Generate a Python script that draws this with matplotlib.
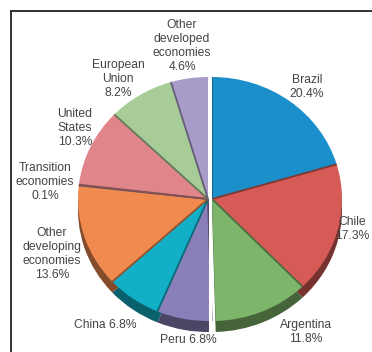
import matplotlib
matplotlib.use("Agg")
import matplotlib.pyplot as plt
import matplotlib.colors as mcolors
import numpy as np

plt.rcParams['font.family'] = ['Liberation Sans', 'DejaVu Sans']

categories = ["Brazil", "Chile", "Argentina", "Peru", "China",
              "Other\ndeveloping\neconomies", "Transition\neconomies",
              "United\nStates", "European\nUnion",
              "Other\ndeveloped\neconomies"]
shares = [20.4, 17.3, 11.8, 6.8, 6.8, 13.6, 0.1, 10.3, 8.2, 4.6]
colors = ["#1b8fc9", "#d65a55", "#7db66a", "#8a7fb8", "#12afc6",
          "#f08a4e", "#8e8aa6", "#e08589", "#a7cc98", "#a89bc9"]
# slices pulled slightly to the right
split_group = ["Brazil", "Chile", "Argentina"]

W, H = 372, 352
fig = plt.figure(figsize=(W / 100, H / 100), dpi=100)
ax = fig.add_axes([0, 0, 1, 1])

# pixel geometry of the (slightly tilted) pie
cx, cy = 208, 199          # centre in pixels (y from top)
rx, ry = 130, 122          # horizontal / vertical radius in pixels
depth = 11 / ry            # thickness of the side band
shift = 4 / rx             # offset of the split group

def darker(c, f=0.55):
    r, g, b = mcolors.to_rgb(c)
    return (r * f, g * f, b * f)

# side band (drawn first, peeks out at the bottom)
side, _ = ax.pie(shares, colors=[darker(c) for c in colors], startangle=90,
                 counterclock=False, radius=1, center=(0, -depth),
                 wedgeprops=dict(linewidth=0))
top, _ = ax.pie(shares, colors=colors, startangle=90, counterclock=False,
                radius=1, center=(0, 0), wedgeprops=dict(linewidth=0))

for ws, wt, name in zip(side, top, categories):
    if name in split_group:
        ws.set_center((shift, -depth))
        wt.set_center((shift, 0))

# radial boundaries between slices
total = sum(shares)
ang = 90.0
for name, val, col in zip(categories, shares, colors):
    a0 = np.deg2rad(ang)
    ox = shift if name in split_group else 0
    ax.plot([ox, ox + np.cos(a0)], [0, np.sin(a0)],
            color=darker(col, 0.6), lw=1.3, solid_capstyle='butt', zorder=3)
    ang -= 360 * val / total

ax.set_aspect('auto')
ax.set_xlim(-cx / rx, (W - cx) / rx)
ax.set_ylim(-(H - cy) / ry, cy / ry)
ax.axis('off')

# white split line down the middle
ax.plot([shift / 2, shift / 2], [1.02, -1.02 - depth], color='white',
        lw=2.2, zorder=4)

# labels (pixel positions, y from top)
label_pos = {
    "Brazil": (307, 87),
    "Chile": (352, 229),
    "Argentina": (306, 332),
    "Peru": (188, 340),
    "China": (105, 325),
    "Other\ndeveloping\neconomies": (52, 254),
    "Transition\neconomies": (45, 182),
    "United\nStates": (75, 128),
    "European\nUnion": (118, 79),
    "Other\ndeveloped\neconomies": (182, 46),
}
one_line = {"Peru", "China"}
for name, val in zip(categories, shares):
    x, y = label_pos[name]
    sep = " " if name in one_line else "\n"
    fig.text(x / W, 1 - y / H, f"{name}{sep}{val:.1f}%", ha='center',
             va='center', fontsize=8.7, color='#444444', linespacing=1.24)

# open frame (left and top edges)
fig.add_artist(plt.Line2D([11 / W, 11 / W], [0, 1 - 11 / H],
                          transform=fig.transFigure, color='#333333', lw=1.4))
fig.add_artist(plt.Line2D([11 / W, 1], [1 - 11 / H, 1 - 11 / H],
                          transform=fig.transFigure, color='#333333', lw=1.4))

fig.savefig("out.png", dpi=100)
